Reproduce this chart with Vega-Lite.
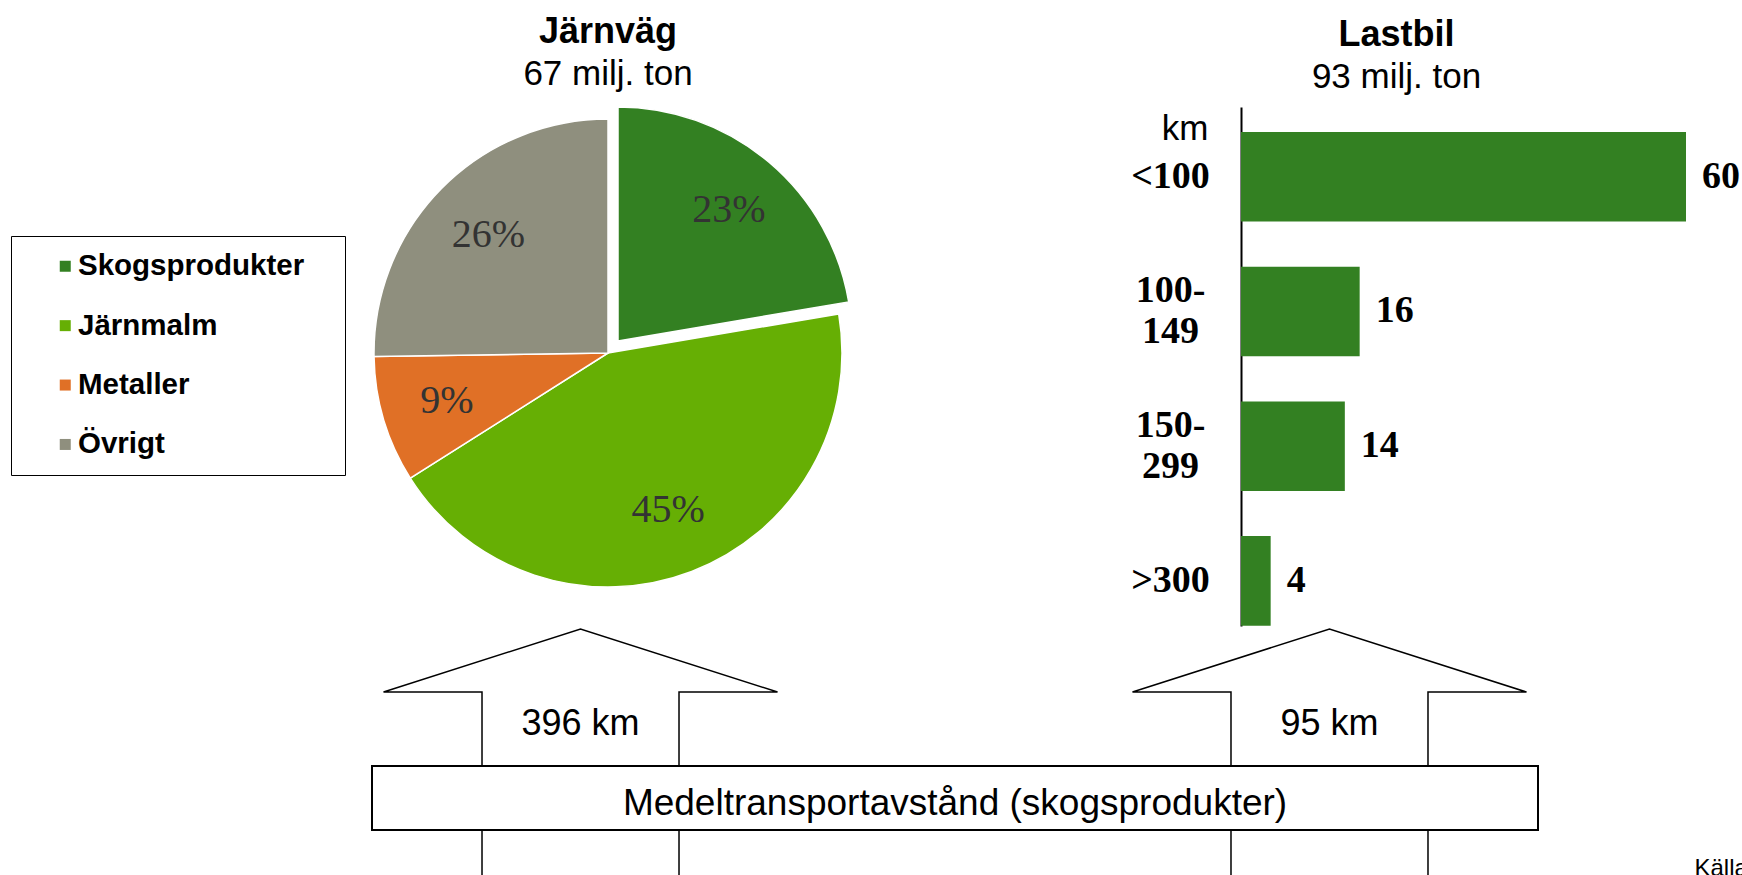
{
  "$schema": "https://vega.github.io/schema/vega-lite/v6.json",
  "autosize": {"type": "pad"},
  "padding": {"left": 10, "top": 14, "right": 0, "bottom": 0},
  "config": {"view": {"stroke": null}, "font": "Liberation Sans"},
  "spacing": 0,
  "resolve": {"scale": {"color": "independent"}, "legend": {"color": "independent"}},
  "vconcat": [
    {
      "spacing": 272,
      "resolve": {"scale": {"color": "independent"}, "legend": {"color": "independent"}},
      "hconcat": [
        {
          "width": 500,
          "height": 492,
          "title": {
            "text": "Järnväg",
            "subtitle": "67 milj. ton",
            "frame": "group",
            "anchor": "middle",
            "font": "Liberation Sans",
            "fontSize": 36,
            "fontWeight": "bold",
            "color": "black",
            "subtitleFont": "Liberation Sans",
            "subtitleFontSize": 35,
            "subtitleColor": "black",
            "subtitlePadding": 6,
            "offset": 11
          },
          "data": {
            "values": [
              {"kategori": "Skogsprodukter", "andel": 23, "etikett": "23%", "ordning": 1},
              {"kategori": "Järnmalm", "andel": 45, "etikett": "45%", "ordning": 2},
              {"kategori": "Metaller", "andel": 9, "etikett": "9%", "ordning": 3},
              {"kategori": "Övrigt", "andel": 26, "etikett": "26%", "ordning": 4}
            ]
          },
          "encoding": {
            "theta": {"field": "andel", "type": "quantitative", "stack": true},
            "order": {"field": "ordning", "type": "quantitative"}
          },
          "layer": [
            {
              "mark": {"type": "arc", "radius": 234, "stroke": "white", "strokeWidth": 1.5},
              "encoding": {
                "color": {
                  "field": "kategori",
                  "type": "nominal",
                  "scale": {
                    "domain": ["Skogsprodukter", "Järnmalm", "Metaller", "Övrigt"],
                    "range": ["#338022", "#66af04", "#e07026", "#8f8f7e"]
                  },
                  "legend": {
                    "orient": "none",
                    "legendX": -347,
                    "legendY": 129,
                    "title": null,
                    "symbolType": "square",
                    "symbolSize": 121,
                    "symbolStrokeWidth": 0,
                    "symbolOffset": 24,
                    "labelOffset": -2,
                    "labelFont": "Liberation Sans",
                    "labelFontSize": 29.5,
                    "labelFontWeight": "bold",
                    "labelColor": "black",
                    "labelLimit": 500,
                    "rowPadding": 28.4,
                    "padding": 15.5,
                    "strokeColor": "black",
                    "labelExpr": "datum.label + '\u00a0\u00a0\u00a0\u200b'"
                  }
                },
                "opacity": {"condition": {"test": "datum.kategori === 'Skogsprodukter'", "value": 0}, "value": 1}
              }
            },
            {
              "mark": {"type": "arc", "radius": 234, "stroke": "white", "strokeWidth": 1.5, "xOffset": 10, "yOffset": -12},
              "encoding": {
                "color": {"field": "kategori", "type": "nominal"},
                "opacity": {"condition": {"test": "datum.kategori === 'Skogsprodukter'", "value": 1}, "value": 0}
              }
            },
            {
              "mark": {"type": "text", "radius": 168, "font": "Liberation Serif", "fontSize": 40, "color": "#333333", "baseline": "middle"},
              "encoding": {
                "detail": {"field": "kategori", "type": "nominal"},
                "text": {"field": "etikett", "type": "nominal"},
                "opacity": {"condition": {"test": "datum.kategori === 'Skogsprodukter'", "value": 0}, "value": 1}
              }
            },
            {
              "mark": {"type": "text", "radius": 172, "font": "Liberation Serif", "fontSize": 40, "color": "#333333", "baseline": "middle", "xOffset": 10, "yOffset": -12},
              "encoding": {
                "detail": {"field": "kategori", "type": "nominal"},
                "text": {"field": "etikett", "type": "nominal"},
                "opacity": {"condition": {"test": "datum.kategori === 'Skogsprodukter'", "value": 1}, "value": 0}
              }
            }
          ]
        },
        {
          "width": 445,
          "height": 519,
          "title": {
            "text": "Lastbil",
            "subtitle": "93 milj. ton",
            "frame": "group",
            "anchor": "middle",
            "dx": -67,
            "font": "Liberation Sans",
            "fontSize": 36,
            "fontWeight": "bold",
            "color": "black",
            "subtitleFont": "Liberation Sans",
            "subtitleFontSize": 35,
            "subtitleColor": "black",
            "subtitlePadding": 6,
            "offset": 11
          },
          "data": {
            "values": [
              {"avstand": "<100", "mangd": 60},
              {"avstand": "100-149", "mangd": 16},
              {"avstand": "150-299", "mangd": 14},
              {"avstand": ">300", "mangd": 4}
            ]
          },
          "encoding": {
            "y": {
              "field": "avstand",
              "type": "nominal",
              "sort": null,
              "scale": {"paddingInner": 0.335, "paddingOuter": 0.0939, "align": 0.988},
              "axis": {
                "title": "km",
                "titleAngle": 0,
                "titleAlign": "right",
                "titleBaseline": "alphabetic",
                "titleX": -33,
                "titleY": 32,
                "titleFont": "Liberation Sans",
                "titleFontSize": 35,
                "titleFontWeight": "normal",
                "titleColor": "black",
                "labelFont": "Liberation Serif",
                "labelFontSize": 38,
                "labelFontWeight": "bold",
                "labelColor": "black",
                "labelAlign": "center",
                "labelBaseline": "middle",
                "labelPadding": 71,
                "labelLineHeight": 41,
                "labelOffset": {"condition": {"test": "indexof(datum.label, '-') > 0", "value": -20.5}, "value": 0},
                "labelExpr": "datum.label == '100-149' ? ['100-', '149'] : datum.label == '150-299' ? ['150-', '299'] : datum.label",
                "ticks": false,
                "tickSize": 0,
                "grid": false,
                "domainColor": "black",
                "domainWidth": 2
              }
            },
            "x": {"field": "mangd", "type": "quantitative", "scale": {"domain": [0, 60], "nice": false}, "axis": null}
          },
          "layer": [
            {"mark": {"type": "bar", "color": "#338022"}},
            {
              "mark": {"type": "text", "align": "left", "baseline": "middle", "dx": 16, "font": "Liberation Serif", "fontSize": 38, "fontWeight": "bold", "color": "black"},
              "encoding": {"text": {"field": "mangd", "type": "quantitative"}}
            }
          ]
        }
      ]
    },
    {
      "width": 1380,
      "height": 250,
      "data": {
        "values": [
          {"del": "Järnväg", "typ": "pil", "etikett": "396 km"},
          {"del": "Medel", "typ": "ram", "etikett": "Medeltransportavstånd (skogsprodukter)"},
          {"del": "Lastbil", "typ": "pil", "etikett": "95 km"},
          {"del": "Källa", "typ": "källa", "etikett": "Källa:"}
        ]
      },
      "encoding": {
        "x": {
          "field": "del",
          "type": "nominal",
          "scale": {"type": "point", "domain": ["Järnväg", "Medel", "Lastbil", "Källa"], "padding": 0.3425, "align": 0.8674},
          "axis": null
        }
      },
      "layer": [
        {
          "transform": [{"filter": "datum.typ === 'pil'"}],
          "mark": {
            "type": "point",
            "shape": "M-0.4925,0.249L-0.4925,-0.685L-0.985,-0.685L0,-1L0.985,-0.685L0.4925,-0.685L0.4925,0.249",
            "size": 160000,
            "filled": false,
            "color": "black",
            "strokeWidth": 1.5,
            "opacity": 1,
            "yOffset": 75
          }
        },
        {
          "transform": [{"filter": "datum.typ === 'ram'"}],
          "mark": {
            "type": "point",
            "shape": "M-1,-0.0549L1,-0.0549L1,0.0549L-1,0.0549Z",
            "size": 1359556,
            "filled": true,
            "fill": "white",
            "stroke": "black",
            "strokeWidth": 2,
            "opacity": 1,
            "yOffset": 44
          }
        },
        {
          "transform": [{"filter": "datum.typ === 'pil'"}],
          "mark": {"type": "text", "font": "Liberation Sans", "fontSize": 36, "color": "black", "baseline": "alphabetic", "dy": -19},
          "encoding": {"text": {"field": "etikett", "type": "nominal"}}
        },
        {
          "transform": [{"filter": "datum.typ === 'ram'"}],
          "mark": {"type": "text", "font": "Liberation Sans", "fontSize": 37, "color": "black", "baseline": "alphabetic", "dy": 61},
          "encoding": {"text": {"field": "etikett", "type": "nominal"}}
        },
        {
          "transform": [{"filter": "datum.typ === 'källa'"}],
          "mark": {"type": "text", "font": "Liberation Sans", "fontSize": 24, "color": "black", "align": "left", "baseline": "alphabetic", "dx": -9.5, "dy": 122},
          "encoding": {"text": {"field": "etikett", "type": "nominal"}}
        }
      ]
    }
  ]
}
